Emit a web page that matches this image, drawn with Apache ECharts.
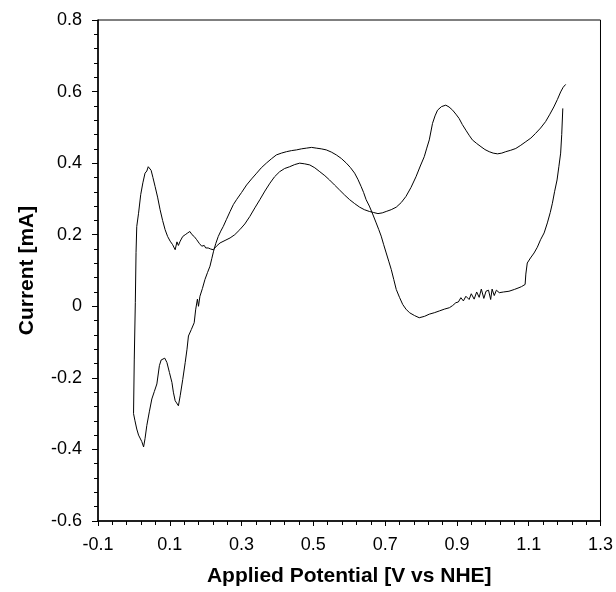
<!DOCTYPE html>
<html>
<head>
<meta charset="utf-8">
<script src="https://cdn.jsdelivr.net/npm/echarts@6/dist/echarts.min.js"></script>
<style>html,body{margin:0;padding:0;background:#fff}#c{width:616px;height:592px}</style>
</head>
<body>
<div id="c"></div>
<script>
const potentialV = [
1.195,1.192,1.189,1.184,1.179,1.172,1.166,1.160,1.152,1.143,1.133,1.124,1.115,1.105,1.096,1.092,1.090,1.080,1.073,1.060,
1.045,1.030,1.018,1.010,1.004,0.998,0.994,0.988,0.981,0.975,0.968,0.962,0.955,0.948,0.940,0.934,0.925,0.918,0.911,0.904,
0.897,0.888,0.879,0.865,0.851,0.837,0.823,0.810,0.795,0.782,0.768,0.758,0.749,0.740,0.731,0.724,0.717,0.710,0.703,0.696,
0.689,0.682,0.675,0.664,0.656,0.647,0.640,0.633,0.624,0.615,0.603,0.592,0.578,0.564,0.550,0.536,0.522,0.508,0.495,0.481,
0.467,0.453,0.439,0.425,0.411,0.397,0.383,0.369,0.355,0.342,0.328,0.314,0.300,0.286,0.277,0.268,0.258,0.249,0.242,0.235,
0.228,0.222,0.217,0.212,0.205,0.198,0.191,0.184,0.180,0.177,0.172,0.168,0.160,0.152,0.148,0.143,0.136,0.129,0.124,0.119,
0.115,0.110,0.106,0.099,0.092,0.086,0.081,0.076,0.071,0.064,0.057,0.050,0.043,0.036,0.031,0.027,0.022,0.018,0.013,0.008,
0.003,-0.001,0.001,0.004,0.006,0.008,0.013,0.019,0.025,0.031,0.036,0.040,0.0425,0.048,0.053,0.059,0.066,0.073,0.080,0.087,
0.094,0.101,0.108,0.112,0.115,0.120,0.124,0.129,0.136,0.143,0.150,0.156,0.162,0.168,0.175,0.182,0.189,0.196,0.200,0.207,
0.214,0.221,0.230,0.240,0.254,0.268,0.281,0.295,0.309,0.323,0.337,0.351,0.365,0.379,0.392,0.406,0.420,0.434,0.448,0.462,
0.476,0.490,0.504,0.518,0.532,0.545,0.559,0.573,0.587,0.601,0.615,0.629,0.642,0.656,0.668,0.680,0.692,0.703,0.717,0.731,
0.745,0.758,0.772,0.786,0.798,0.809,0.816,0.823,0.832,0.839,0.846,0.857,0.869,0.878,0.888,0.897,0.906,0.915,0.925,0.934,
0.943,0.955,0.967,0.978,0.990,1.001,1.013,1.025,1.036,1.050,1.064,1.078,1.092,1.106,1.119,1.133,1.147,1.158,1.170,1.180,
1.189,1.196,1.203
];
const currentMA = [
0.553,0.480,0.428,0.390,0.353,0.320,0.288,0.262,0.233,0.205,0.186,0.165,0.149,0.135,0.121,0.090,0.061,0.055,0.052,0.047,
0.042,0.040,0.038,0.045,0.030,0.048,0.019,0.045,0.042,0.022,0.048,0.025,0.040,0.020,0.035,0.019,0.028,0.015,0.024,0.012,
0.010,0.002,-0.004,-0.008,-0.013,-0.018,-0.022,-0.028,-0.032,-0.026,-0.018,-0.008,0.005,0.025,0.047,0.075,0.103,0.126,0.149,0.172,
0.196,0.215,0.233,0.261,0.280,0.298,0.318,0.335,0.355,0.372,0.388,0.400,0.413,0.423,0.431,0.437,0.440,0.442,0.444,0.442,
0.440,0.437,0.435,0.432,0.428,0.423,0.412,0.400,0.387,0.372,0.356,0.339,0.318,0.298,0.284,0.265,0.243,0.223,0.210,0.195,
0.175,0.154,0.133,0.112,0.094,0.075,0.050,0.028,0.000,0.020,-0.010,-0.046,-0.065,-0.083,-0.120,-0.157,-0.205,-0.250,-0.278,-0.270,
-0.264,-0.240,-0.213,-0.185,-0.157,-0.145,-0.143,-0.150,-0.166,-0.217,-0.238,-0.259,-0.295,-0.333,-0.370,-0.393,-0.378,-0.380,-0.360,-0.343,
-0.320,-0.300,-0.150,0.010,0.150,0.223,0.260,0.312,0.345,0.372,0.378,0.390,0.395,0.380,0.360,0.335,0.305,0.270,0.240,0.214,
0.195,0.182,0.172,0.175,0.158,0.180,0.170,0.182,0.195,0.200,0.205,0.209,0.200,0.195,0.186,0.176,0.168,0.170,0.163,0.163,
0.160,0.158,0.168,0.177,0.184,0.191,0.200,0.214,0.230,0.251,0.275,0.298,0.322,0.344,0.362,0.376,0.385,0.390,0.396,0.400,
0.398,0.395,0.387,0.376,0.365,0.353,0.339,0.325,0.311,0.298,0.287,0.277,0.270,0.265,0.262,0.259,0.261,0.265,0.270,0.277,
0.290,0.307,0.332,0.362,0.392,0.418,0.442,0.465,0.511,0.532,0.548,0.558,0.562,0.557,0.548,0.537,0.525,0.508,0.492,0.478,
0.465,0.455,0.446,0.438,0.432,0.428,0.426,0.428,0.432,0.436,0.441,0.450,0.460,0.470,0.483,0.498,0.516,0.535,0.557,0.578,
0.599,0.612,0.620
];
const xTickLabels = ['-0.1','0.1','0.3','0.5','0.7','0.9','1.1','1.3'];
const xTitle = 'Applied Potential [V vs NHE]';
const yTitle = 'Current [mA]';

const pts = potentialV.map((v, i) => [v, currentMA[i]]);
const chart = echarts.init(document.getElementById('c'), null, {renderer: 'canvas'});
const fontFam = '"Liberation Sans", Arial, sans-serif';
chart.setOption({
  animation: false,
  backgroundColor: '#fff',
  grid: {left: 98, right: 14, top: 20, bottom: 69, show: true, borderColor: '#000', borderWidth: 1, backgroundColor: 'transparent'},
  xAxis: [
    {
      type: 'value', min: -0.1, max: 1.3, position: 'bottom',
      axisLine: {show: true, onZero: false, lineStyle: {color: '#000', width: 1.5}},
      axisTick: {show: false}, axisLabel: {show: false}, splitLine: {show: false}
    },
    {
      type: 'value', min: 0, max: 1.4, interval: 0.2, position: 'bottom',
      name: xTitle, nameLocation: 'middle', nameGap: 45,
      nameTextStyle: {fontFamily: fontFam, fontWeight: 'bold', fontSize: 21, color: '#000'},
      axisLine: {show: false, onZero: false},
      axisTick: {show: true, length: 5, lineStyle: {color: '#000', width: 1}},
      minorTick: {show: true, splitNumber: 5, length: 4, lineStyle: {color: '#000', width: 1}},
      axisLabel: {show: true, margin: 15, fontFamily: fontFam, fontSize: 18, color: '#000',
        formatter: (v) => xTickLabels[Math.round(v / 0.2)]},
      splitLine: {show: false}, minorSplitLine: {show: false}
    }
  ],
  yAxis: {
    type: 'value', min: -0.6, max: 0.8, interval: 0.2,
    name: yTitle, nameLocation: 'middle', nameGap: 60,
    nameTextStyle: {fontFamily: fontFam, fontWeight: 'bold', fontSize: 21, color: '#000'},
    axisLine: {show: true, onZero: false, lineStyle: {color: '#000', width: 1.5}},
    axisTick: {show: true, length: 6, lineStyle: {color: '#000', width: 1}},
    minorTick: {show: true, splitNumber: 5, length: 4, lineStyle: {color: '#000', width: 1}},
    axisLabel: {margin: 16, fontFamily: fontFam, fontSize: 18, color: '#000',
      formatter: (v) => (Math.abs(v) < 1e-9 ? '0' : String(Math.round(v * 10) / 10))},
    splitLine: {show: false}
  },
  series: [{
    type: 'line', xAxisIndex: 0, data: pts, showSymbol: false, symbol: 'none',
    lineStyle: {color: '#000', width: 1}, smooth: false
  }]
});
</script>
</body>
</html>
